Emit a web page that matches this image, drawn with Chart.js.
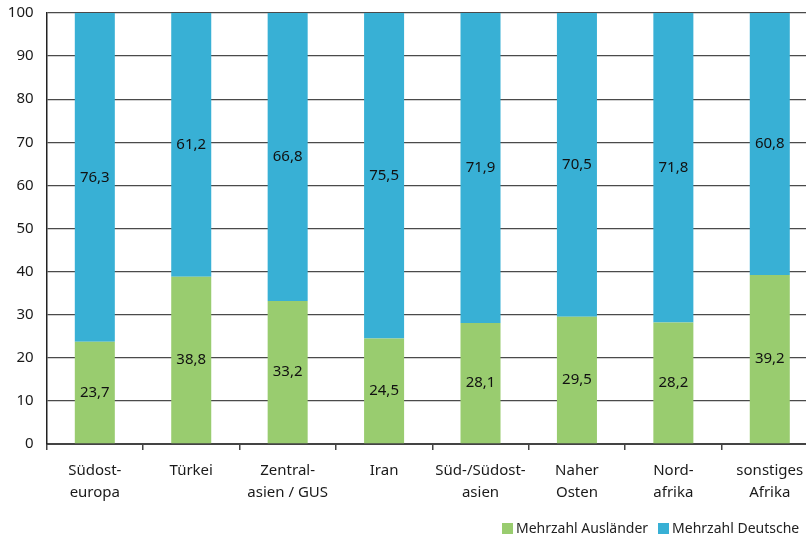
<!DOCTYPE html>
<html>
<head>
<meta charset="utf-8">
<script src="https://cdn.jsdelivr.net/npm/chart.js@4.4.1/dist/chart.umd.min.js"></script>
<style>
  html, body { margin: 0; padding: 0; background: #fff; overflow: hidden; }
  #wrap { position: relative; width: 818px; height: 537px; }
  #legend { position: absolute; left: 502px; top: 518px; font: 14px "Noto Sans", sans-serif; color: #222; white-space: nowrap; }
  #legend span.box { display: inline-block; width: 11px; height: 11px; margin-right: 3px; vertical-align: -1px; }
  #legend span.item { margin-right: 10px; }
</style>
</head>
<body>
<div id="wrap">
  <canvas id="chart" width="818" height="537"></canvas>
  <div id="legend"></div>
</div>
<script>
// Data
const categories = [
  ['Südost-', 'europa'],
  'Türkei',
  ['Zentral-', 'asien / GUS'],
  'Iran',
  ['Süd-/Südost-', 'asien'],
  ['Naher', 'Osten'],
  ['Nord-', 'afrika'],
  ['sonstiges', 'Afrika']
];
const auslaender = [23.7, 38.8, 33.2, 24.5, 28.1, 29.5, 28.2, 39.2];
const deutsche = [76.3, 61.2, 66.8, 75.5, 71.9, 70.5, 71.8, 60.8];
const seriesNames = ['Mehrzahl Ausländer', 'Mehrzahl Deutsche'];
const colors = ['#99cc6f', '#38b0d5'];

Chart.defaults.font.family = '"Noto Sans", sans-serif';
Chart.defaults.color = '#1a1a1a';

// value labels centered inside each segment
const segmentLabels = {
  id: 'segmentLabels',
  afterDatasetsDraw(chart) {
    const ctx = chart.ctx;
    ctx.save();
    ctx.font = '15px "Noto Sans", sans-serif';
    ctx.fillStyle = '#111';
    ctx.textAlign = 'center';
    ctx.textBaseline = 'middle';
    chart.data.datasets.forEach((ds, i) => {
      chart.getDatasetMeta(i).data.forEach((bar, j) => {
        const y = (bar.y + bar.base) / 2;
        ctx.fillText(ds.data[j].toFixed(1).replace('.', ','), bar.x, y);
      });
    });
    ctx.restore();
  }
};

new Chart(document.getElementById('chart').getContext('2d'), {
  type: 'bar',
  data: {
    labels: categories,
    datasets: [
      { label: seriesNames[0], data: auslaender, backgroundColor: colors[0] },
      { label: seriesNames[1], data: deutsche, backgroundColor: colors[1] }
    ]
  },
  options: {
    responsive: false,
    animation: false,
    barPercentage: 0.415,
    categoryPercentage: 1,
    layout: { padding: { top: 13, left: 0, right: 0, bottom: 0 } },
    plugins: {
      legend: { display: false },
      tooltip: { enabled: false }
    },
    scales: {
      x: {
        stacked: true,
        grid: { offset: true, drawOnChartArea: false, drawTicks: true, tickLength: 6, color: '#444', lineWidth: 1.5 },
        border: { color: '#444', width: 2 },
        ticks: { font: { size: 15, lineHeight: 1.45 }, padding: 10, maxRotation: 0, autoSkip: false, color: '#1a1a1a' },
        afterFit(scale) { scale.height = 93; scale.paddingLeft = 0; scale.paddingRight = 0; }
      },
      y: {
        stacked: true,
        min: 0,
        max: 100,
        grid: { color: '#4a4a4a', lineWidth: 1.3, drawTicks: false },
        border: { color: '#222', width: 1.5 },
        ticks: { stepSize: 10, font: { size: 15 }, padding: 13, color: '#1a1a1a' },
        afterFit(scale) { scale.width = 46.6; scale.paddingTop = 0; scale.paddingBottom = 0; }
      }
    }
  },
  plugins: [segmentLabels]
});

// legend
const legend = document.getElementById('legend');
seriesNames.forEach((name, i) => {
  const item = document.createElement('span');
  item.className = 'item';
  item.innerHTML = '<span class="box" style="background:' + colors[i] + '"></span>' + name;
  legend.appendChild(item);
});
</script>
</body>
</html>
